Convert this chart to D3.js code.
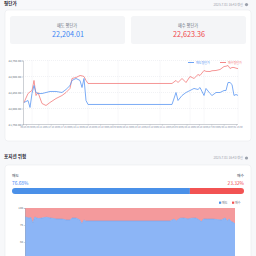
<!DOCTYPE html>
<html>
<head>
<meta charset="utf-8">
<script src="https://cdn.jsdelivr.net/npm/d3@7"></script>
<style>
  html, body { margin: 0; padding: 0; background: #f7f8fa; }
  svg { display: block; font-family: "Noto Sans CJK KR", "Noto Sans", sans-serif; }
</style>
</head>
<body>
<svg id="root" width="256" height="256"></svg>
<script>
"use strict";

// time index (sample step) and the two average-price series
var times = [0, 2, 3, 4, 5, 6, 7, 9, 11, 13, 16, 19, 21, 23, 24, 26, 28, 29, 30, 31, 32, 74,
    76, 77, 79, 81, 83, 85, 87, 88, 90, 91, 93, 94, 96, 98, 100, 101, 102, 103, 104, 105, 106, 107];
var sellAvg = [22094, 22125, 22016, 22234, 22359, 22250, 22234, 22234, 22250, 22266, 22266, 22250, 22297, 22359, 22438, 22469, 22438, 22328, 22469, 22125, 22063, 22063,
    22250, 22125, 22203, 22250, 22281, 22313, 22297, 22328, 22203, 22313, 22234, 22203, 22250, 22250, 22281, 22281, 22406, 22406, 22375, 22203, 22219, 22204];
var buyAvg = [22094, 22234, 22260, 22281, 22438, 22203, 22250, 22078, 22047, 22094, 22156, 22203, 22250, 22313, 22469, 22484, 22516, 22510, 22500, 22438, 22391, 22391,
    22438, 22406, 22469, 22406, 22500, 22469, 22531, 22516, 22594, 22580, 22578, 22590, 22594, 22609, 22656, 22660, 22672, 22625, 22641, 22641, 22630, 22623];
// sell share of position (%), buy share is the rest
var sellShare = [86.8, 85.3, 86.0, 78.0, 86.8, 85.3, 84.5, 85.5, 86.5, 85.3, 84.0, 83.8, 82.4, 82.4, 85.3, 85.3, 82.4, 76.5, 82.4, 80.9, 81.0, 81.0,
    83.8, 80.9, 85.0, 85.3, 84.0, 85.0, 85.3, 83.8, 80.0, 84.0, 83.8, 83.8, 83.8, 83.0, 82.4, 84.0, 85.3, 81.0, 83.8, 80.0, 79.0, 76.7];

var priceTicks = [21750, 22000, 22250, 22500, 22750];
var shareTicks = [50, 75, 100];
var timeLabels = ["06/16 09:30", "06/16 14:10", "06/17 10:20", "06/17 15:00", "06/18 11:00", "06/18 15:40",
    "06/19 10:30", "06/20 09:50", "06/20 14:30", "06/23 10:10", "06/23 14:50", "06/24 11:20",
    "06/25 09:40", "06/25 14:20", "06/26 10:40", "06/27 09:30", "06/30 11:00", "07/01 15:30"];
var gridTimes = [4, 12, 32, 47, 68, 83, 90, 107];

var sellAvgNow = "22,204.01", buyAvgNow = "22,623.36";
var sellPct = 76.68, buyPct = 23.32;
var updated = "2025.7.01 16:43 갱신";

var BLUE = "#3d85f5", RED = "#f0454b";

var svg = d3.select("#root");

function titleRow(y, title) {
    svg.append("text").attr("x", 4).attr("y", y).attr("font-size", 4.6).attr("font-weight", 700)
        .attr("fill", "#1f2430").text(title);
    svg.append("text").attr("x", 243).attr("y", y + 1).attr("font-size", 3.2).attr("text-anchor", "end")
        .attr("fill", "#9aa0ab").text(updated);
    svg.append("circle").attr("cx", 246.5).attr("cy", y).attr("r", 1.6).attr("fill", "#9aa0ab");
}

function card(y, h) {
    svg.append("rect").attr("x", 5).attr("y", y).attr("width", 246).attr("height", h).attr("rx", 3)
        .attr("fill", "#ffffff").attr("stroke", "#e9ebef").attr("stroke-width", 0.6);
}

// ---- section 1: average price ----
titleRow(4.6, "평단가");
card(10, 131);

[{ x: 10, label: "매도 평단가", value: sellAvgNow, color: BLUE },
 { x: 131, label: "매수 평단가", value: buyAvgNow, color: RED }].forEach(function (b) {
    svg.append("rect").attr("x", b.x).attr("y", 16).attr("width", 115).attr("height", 28).attr("rx", 2.5)
        .attr("fill", "#f4f5f7");
    svg.append("text").attr("x", b.x + 57).attr("y", 26.5).attr("font-size", 4.2).attr("text-anchor", "middle")
        .attr("fill", "#6b7280").text(b.label);
    svg.append("text").attr("x", b.x + 58).attr("y", 37).attr("font-size", 7.2).attr("text-anchor", "middle")
        .attr("fill", b.color).text(b.value);
});

var plot = { left: 23, right: 238, top: 60.5, bottom: 124.5 };

var x = d3.scaleLinear().domain([0, 107]).range([plot.left + 1, plot.right]);
var y = d3.scaleLinear().domain([21750, 22750]).range([plot.bottom, plot.top]);

// grid
svg.append("g").selectAll("line").data(priceTicks.slice(1)).join("line")
    .attr("x1", plot.left).attr("x2", plot.right)
    .attr("y1", function (d) { return y(d); }).attr("y2", function (d) { return y(d); })
    .attr("stroke", "#e3e5ea").attr("stroke-width", 0.5).attr("stroke-dasharray", "1,1");
svg.append("g").selectAll("line").data(gridTimes).join("line")
    .attr("x1", function (d) { return x(d); }).attr("x2", function (d) { return x(d); })
    .attr("y1", plot.top).attr("y2", plot.bottom)
    .attr("stroke", "#e3e5ea").attr("stroke-width", 0.5).attr("stroke-dasharray", "1,1");

var yAxis = svg.append("g").attr("transform", "translate(" + plot.left + ",0)")
    .call(d3.axisLeft(y).tickValues(priceTicks).tickSize(1.5).tickFormat(d3.format(",.2f")));
yAxis.selectAll("text").attr("font-size", 2.8).attr("fill", "#6b7280").attr("x", -2);

var labelScale = d3.scalePoint().domain(timeLabels).range([x(1), x(106)]);
var xAxis = svg.append("g").attr("transform", "translate(0," + plot.bottom + ")")
    .call(d3.axisBottom(labelScale).tickSize(1.2));
xAxis.selectAll("text").attr("font-size", 2.3).attr("fill", "#7d8aa3").attr("y", 2.3);
xAxis.select(".domain").attr("d", "M" + plot.left + ",0H" + plot.right);

[yAxis, xAxis].forEach(function (a) {
    a.select(".domain").attr("stroke", "#9aa0ab").attr("stroke-width", 0.5);
    a.selectAll(".tick line").attr("stroke", "#9aa0ab").attr("stroke-width", 0.4);
    a.attr("font-family", null);
});

var line = d3.line().x(function (d, i) { return x(times[i]); }).y(function (d) { return y(d); });
svg.append("path").datum(buyAvg).attr("d", line).attr("fill", "none")
    .attr("stroke", "#f37b7b").attr("stroke-width", 0.8);
svg.append("path").datum(sellAvg).attr("d", line).attr("fill", "none")
    .attr("stroke", "#5b97f3").attr("stroke-width", 0.8);

// legend
[{ x: 188, label: "매도평단가", color: "#5b97f3" }, { x: 220, label: "매수평단가", color: "#f37b7b" }]
    .forEach(function (l) {
        svg.append("line").attr("x1", l.x).attr("x2", l.x + 6).attr("y1", 62.5).attr("y2", 62.5)
            .attr("stroke", l.color).attr("stroke-width", 0.9);
        svg.append("text").attr("x", l.x + 8).attr("y", 63.6).attr("font-size", 3).attr("fill", l.color).text(l.label);
    });

// ---- section 2: position risk ----
titleRow(158, "포지션 위험");
card(165, 100);

svg.append("text").attr("x", 12).attr("y", 176.5).attr("font-size", 3.8).attr("fill", "#374151").text("매도");
svg.append("text").attr("x", 12).attr("y", 184.5).attr("font-size", 4.8).attr("fill", BLUE).text(sellPct.toFixed(2) + "%");
svg.append("text").attr("x", 244).attr("y", 176.5).attr("font-size", 3.8).attr("text-anchor", "end")
    .attr("fill", "#374151").text("매수");
svg.append("text").attr("x", 244).attr("y", 184.5).attr("font-size", 4.8).attr("text-anchor", "end")
    .attr("fill", RED).text(buyPct.toFixed(2) + "%");

var bar = d3.scaleLinear().domain([0, 100]).range([12, 244]);
svg.append("defs").append("clipPath").attr("id", "barclip").append("rect")
    .attr("x", bar(0)).attr("y", 188).attr("width", bar(100) - bar(0)).attr("height", 6).attr("rx", 3);
var barG = svg.append("g").attr("clip-path", "url(#barclip)");
barG.append("rect").attr("x", bar(0)).attr("y", 188).attr("width", bar(sellPct) - bar(0)).attr("height", 6).attr("fill", "#4a90e8");
barG.append("rect").attr("x", bar(sellPct)).attr("y", 188).attr("width", bar(100) - bar(sellPct)).attr("height", 6).attr("fill", "#f25353");

[{ x: 219, label: "매도", color: "#4a90e8" }, { x: 232, label: "매수", color: "#f25353" }].forEach(function (l) {
    svg.append("rect").attr("x", l.x).attr("y", 201.6).attr("width", 2.2).attr("height", 2.2).attr("fill", l.color);
    svg.append("text").attr("x", l.x + 3).attr("y", 203.7).attr("font-size", 3).attr("fill", "#6b7280").text(l.label);
});

var ax = d3.scaleLinear().domain([0, 107]).range([25, 235]);
var ay = d3.scaleLinear().domain([0, 100]).range([276, 208]);

var buyArea = d3.area().x(function (d, i) { return ax(times[i]); }).y0(function (d) { return ay(d); }).y1(ay(100));
var sellArea = d3.area().x(function (d, i) { return ax(times[i]); }).y0(ay(0)).y1(function (d) { return ay(d); });
svg.append("path").datum(sellShare).attr("d", buyArea).attr("fill", "#f49a9c");
svg.append("path").datum(sellShare).attr("d", sellArea).attr("fill", "#8cb5f6");
svg.append("path").datum(sellShare)
    .attr("d", d3.line().x(function (d, i) { return ax(times[i]); }).y(function (d) { return ay(d); }))
    .attr("fill", "none").attr("stroke", "#6f9fe8").attr("stroke-width", 0.5);

var ayAxis = svg.append("g").attr("transform", "translate(25,0)")
    .call(d3.axisLeft(ay).tickValues(shareTicks).tickSize(1.2));
ayAxis.attr("font-family", null);
ayAxis.select(".domain").attr("stroke", "#9aa0ab").attr("stroke-width", 0.4);
ayAxis.selectAll(".tick line").attr("stroke", "#9aa0ab").attr("stroke-width", 0.4);
ayAxis.selectAll("text").attr("font-size", 2.8).attr("fill", "#6b7280").attr("x", -2);
</script>
</body>
</html>
